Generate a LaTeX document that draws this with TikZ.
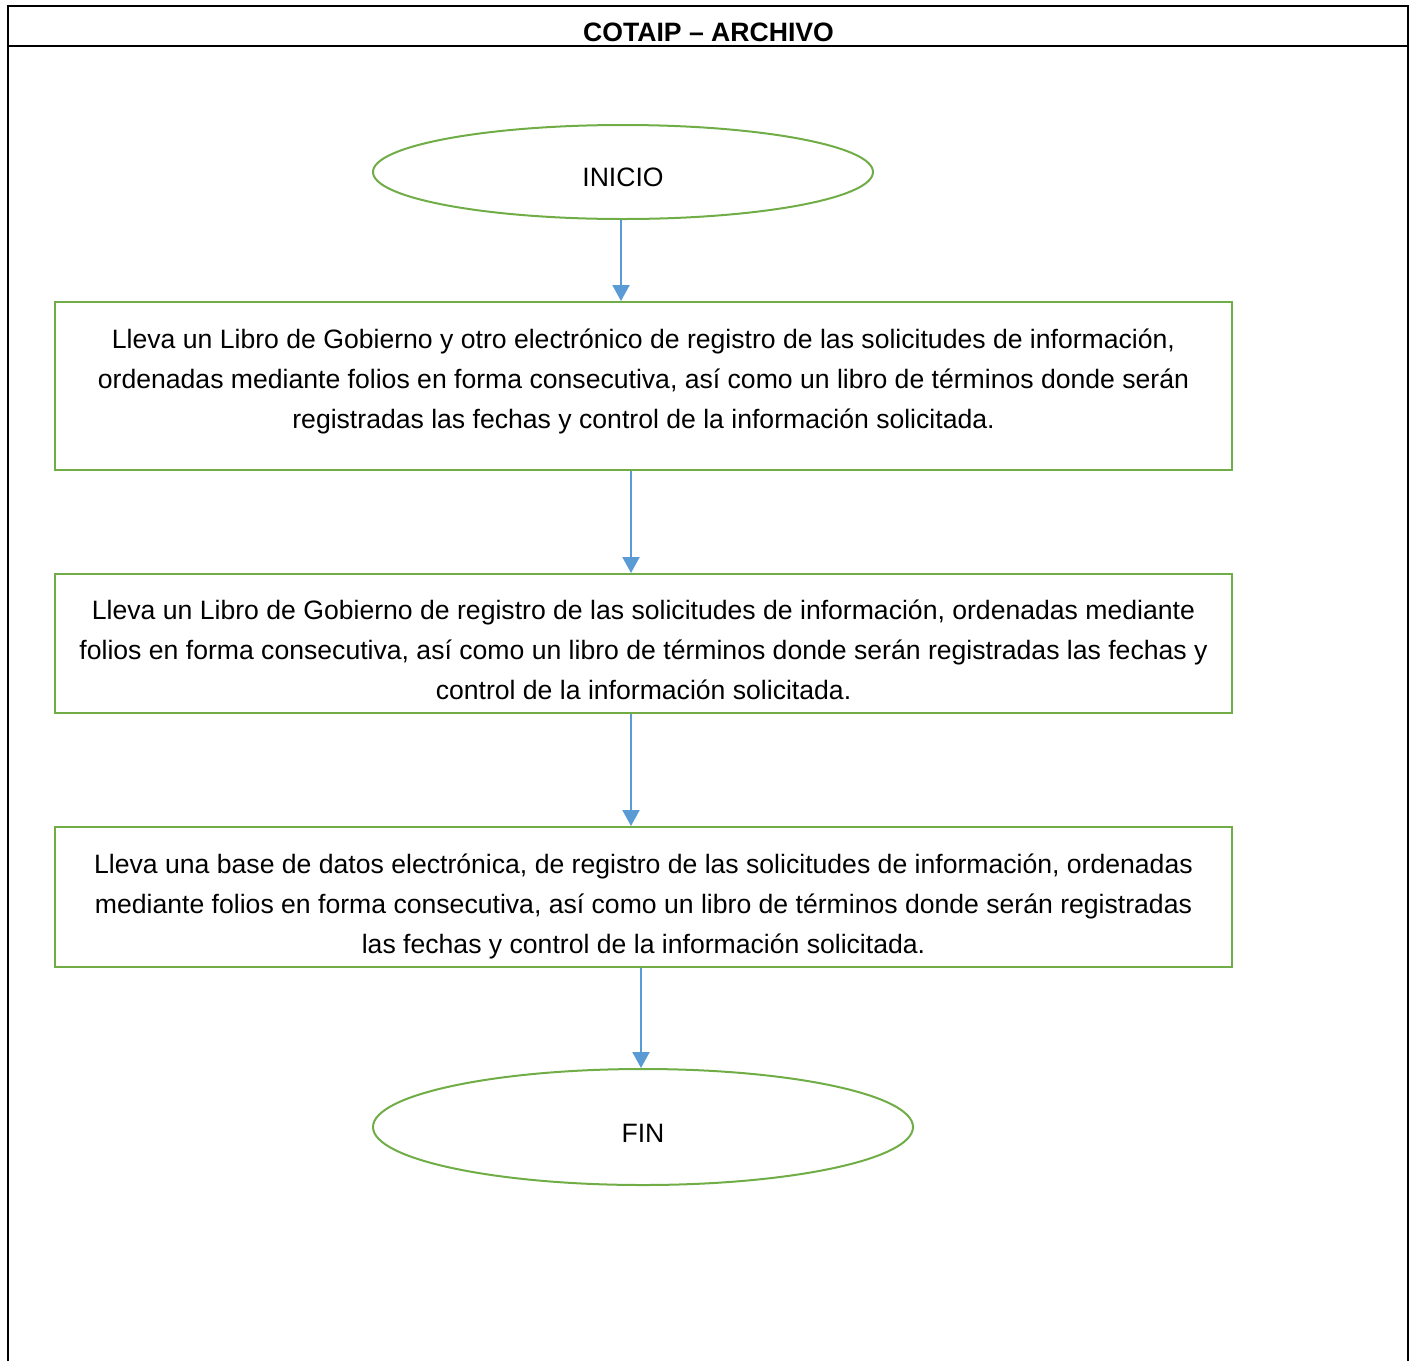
\documentclass[tikz,border=0pt]{standalone}
\usepackage{fontspec}
\setmainfont{Liberation Sans}
\usetikzlibrary{shapes.geometric,arrows.meta}
\definecolor{verde}{HTML}{70AD47}
\definecolor{azul}{HTML}{5B9BD5}
\begin{document}
\begin{tikzpicture}[x=0.5pt, y=-0.5pt,
        caja/.style={draw=verde, line width=1pt, minimum width=588.5pt, align=center,
            inner ysep=2pt, font=\fontsize{13.3}{20}\selectfont},
        elipse/.style={draw=verde, line width=1pt, ellipse, inner sep=0pt,
            font=\fontsize{13.3}{20}\selectfont},
        flecha/.style={draw=azul, line width=1pt, -{Triangle[width=8.5pt,length=8pt]}}]
                \useasboundingbox (0, 0) rectangle (1414, 1361);

                % marco de la tabla
                \draw[line width=1pt] (8, 1361) -- (8, 6) -- (1408, 6) -- (1408, 1361);
                \draw[line width=1pt] (8, 46) -- (1408, 46);
                \node[font=\bfseries\fontsize{13.3}{16}\selectfont, anchor=base] (titulo) at (708.5, 41) {COTAIP – ARCHIVO};

                \node[elipse, minimum width=250pt, minimum height=47pt, text height=14.5pt, text depth=0pt] (inicio) at (623, 172) {INICIO};

                \node[caja, minimum height=84pt, text height=50pt, text depth=8pt] (paso1) at (643.5, 386) {Lleva un Libro de Gobierno y otro electrónico de registro de las solicitudes de información,\\ordenadas mediante folios en forma consecutiva, así como un libro de términos donde serán\\registradas las fechas y control de la información solicitada.};

                \node[caja, minimum height=69.5pt, text height=58.5pt, text depth=3pt] (paso2) at (643.5, 643.5) {Lleva un Libro de Gobierno de registro de las solicitudes de información, ordenadas mediante\\folios en forma consecutiva, así como un libro de términos donde serán registradas las fechas y\\control de la información solicitada.};

                \node[caja, minimum height=70pt, text height=59pt, text depth=3pt] (paso3) at (643.5, 897) {Lleva una base de datos electrónica, de registro de las solicitudes de información, ordenadas\\mediante folios en forma consecutiva, así como un libro de términos donde serán registradas\\las fechas y control de la información solicitada.};

                \node[elipse, minimum width=270pt, minimum height=58pt, text height=15.5pt, text depth=0pt] (fin) at (643, 1127) {FIN};

                \draw[flecha] ([xshift=-1pt]inicio.south) -- ([xshift=-1pt]inicio.south |- paso1.north);
                \draw[flecha] ([xshift=-6.25pt]paso1.south) -- ([xshift=-6.25pt]paso2.north);
                \draw[flecha] ([xshift=-6.25pt]paso2.south) -- ([xshift=-6.25pt]paso3.north);
                \draw[flecha] ([xshift=-1pt]fin.north |- paso3.south) -- ([xshift=-1pt]fin.north);
            \end{tikzpicture}
\end{document}
